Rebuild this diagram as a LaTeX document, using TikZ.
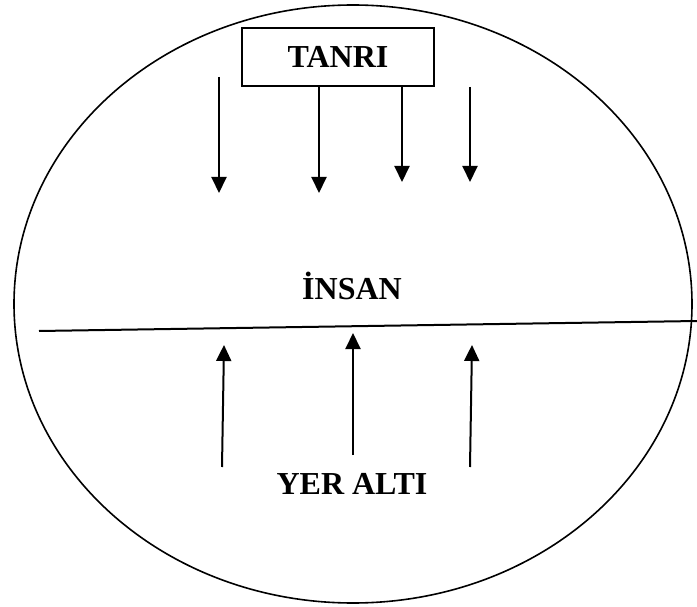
\documentclass[tikz,border=0pt]{standalone}
\usepackage{fontspec}
\setmainfont{Liberation Serif}
\usetikzlibrary{arrows.meta,positioning}

\begin{document}
\begin{tikzpicture}[x=1pt, y=-1pt,
    label/.style={font=\fontsize{32}{36}\selectfont\bfseries, text=black},
    godbox/.style={draw=black, line width=2pt, minimum width=192pt, minimum height=58pt, inner sep=0pt, font=\fontsize{32}{36}\selectfont\bfseries},
    arrow/.style={-{Triangle[length=16pt, width=15pt]}, line width=2pt}
]
\useasboundingbox (0,0) rectangle (697,607);

% outer world
\draw[line width=1.6pt] (353,304) ellipse [x radius=339, y radius=299];

\node[godbox] (tanri) at (338,57) {TANRI};
\node[label] (insan) at (352,286) {İNSAN};
\node[label] (yeralti) at (352,484) {YER ALTI};

% ground line
\coordinate (lineL) at (39,331);
\coordinate (lineR) at (697,321);
\draw[line width=2pt] (lineL) -- (lineR);

% arrows from above
\coordinate (d1s) at (219,77);   \coordinate (d1e) at (219,193);
\coordinate (d2s) at (319,86);   \coordinate (d2e) at (319,193);
\coordinate (d3s) at (402,86);   \coordinate (d3e) at (402,182);
\coordinate (d4s) at (470,87);   \coordinate (d4e) at (470,182);

\draw[arrow] (d1s) -- (d1e);
\draw[arrow] (d2s) -- (d2e);
\draw[arrow] (d3s) -- (d3e);
\draw[arrow] (d4s) -- (d4e);

% arrows from below
\coordinate (u1s) at (222,467);  \coordinate (u1e) at (224,345);
\coordinate (u2s) at (353,455);  \coordinate (u2e) at (353,333);
\coordinate (u3s) at (470,467);  \coordinate (u3e) at (472,345);

\draw[arrow] (u1s) -- (u1e);
\draw[arrow] (u2s) -- (u2e);
\draw[arrow] (u3s) -- (u3e);

\end{tikzpicture}
\end{document}
